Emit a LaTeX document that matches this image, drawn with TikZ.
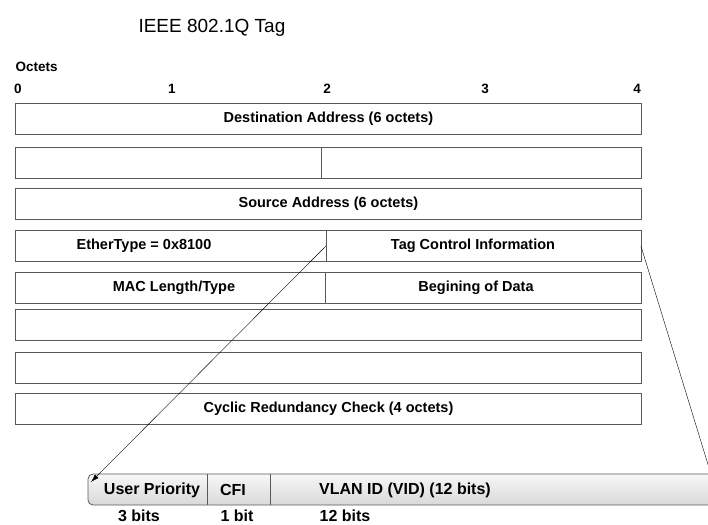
\documentclass[tikz,border=0pt]{standalone}
\usepackage{fontspec}
\setmainfont{Liberation Sans}
\usetikzlibrary{arrows.meta,calc,positioning}
\definecolor{boxgray}{rgb}{0.35,0.35,0.35}
\tikzset{
  cell/.style={draw=boxgray, line width=0.9pt, inner sep=0pt, minimum height=31pt, anchor=north west},
  celltext/.style={font=\fontsize{14.5}{16}\selectfont\bfseries},
  bartext/.style={font=\fontsize{16}{18}\selectfont\bfseries},
  octnum/.style={font=\fontsize{13.5}{15}\selectfont\bfseries},
  link/.style={thin, black, -{Latex[length=8pt,width=5pt]}},
}
\begin{document}
\begin{tikzpicture}[x=1pt,y=-1pt]
        \clip (0,0) rectangle (708,524);
        % Title and octet scale
        \node[font=\fontsize{19}{21}\selectfont, anchor=base west] (title) at (135,33) {IEEE 802.1Q Tag};
        \node[octnum, anchor=west] (octets) at (12,67) {Octets};
        \foreach \n/\x in {0/18, 1/172, 2/327, 3/485, 4/637}
          \node[octnum] (oct\n) at (\x,89) {\n};
        % Frame rows
        \node[cell, minimum width=626pt] (dst) at (15,103) {};
        \node[cell, minimum width=306pt] (empa) at (15,147) {};
        \node[cell, minimum width=320pt] (empb) at (321,147) {};
        \node[cell, minimum width=626pt] (src) at (15,188) {};
        \node[cell, minimum width=311pt] (eth) at (15,230) {};
        \node[cell, minimum width=315pt] (tci) at (326,230) {};
        \node[cell, minimum width=310pt] (mac) at (15,272) {};
        \node[cell, minimum width=316pt] (bod) at (325,272) {};
        \node[cell, minimum width=626pt] (pada) at (15,309) {};
        \node[cell, minimum width=626pt] (padb) at (15,352) {};
        \node[cell, minimum width=626pt] (crc) at (15,393) {};
        % Row labels
        \node[celltext] (dsttext) at (dst.center) {Destination Address (6 octets)};
        \node[celltext] (srctext) at (src.center) {Source Address (6 octets)};
        \node[celltext] (ethtext) at (144,245.5) {EtherType = 0x8100};
        \node[celltext] (tcitext) at (473,245.5) {Tag Control Information};
        \node[celltext] (mactext) at (174,287.5) {MAC Length/Type};
        \node[celltext] (bodtext) at (476,287.5) {Begining of Data};
        \node[celltext] (crctext) at (crc.center) {Cyclic Redundancy Check (4 octets)};
        % Tag field bar
        \draw[boxgray, line width=0.8pt, top color=gray!6, bottom color=gray!30, rounded corners=5pt]
        (720,474) -- (88,474) -- (88,505) -- (720,505) -- cycle;
        \draw[boxgray, line width=0.8pt] (207,474) -- (207,505);
        \draw[boxgray, line width=0.8pt] (270,474) -- (270,505);
        \node[bartext] (prio) at (152,490) {User Priority};
        \node[bartext] (cfi) at (233,490) {CFI};
        \node[bartext] (vid) at (405,490) {VLAN ID (VID) (12 bits)};
        \node[bartext] (priobits) at (139,516) {3 bits};
        \node[bartext] (cfibits) at (237,516) {1 bit};
        \node[bartext] (vidbits) at (345,516) {12 bits};
        % Expansion lines
        \coordinate (tagstart) at (91,482);
        \coordinate (tagend) at (714,484);
        \draw[link] (tci.west) -- (tagstart);
        \draw[link] ([xshift=-1pt]tci.east) -- (tagend);
\end{tikzpicture}
\end{document}
